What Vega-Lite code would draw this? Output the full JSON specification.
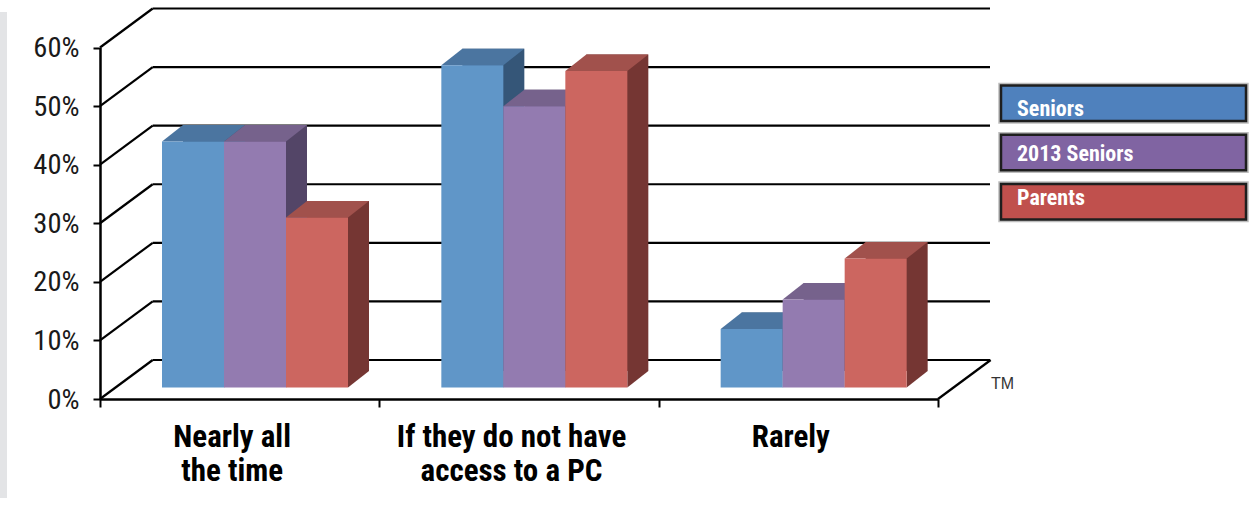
{
  "$schema": "https://vega.github.io/schema/vega-lite/v6.json",
  "width": 1252,
  "height": 507,
  "autosize": {"type": "none"},
  "padding": 0,
  "background": "#ffffff",
  "config": {
    "view": {"stroke": null},
    "font": "Roboto Condensed, DejaVu Sans Condensed, sans-serif"
  },
  "datasets": {
    "survey": [
      {"answer": "Nearly all the time", "series": "Seniors", "share": 42},
      {"answer": "Nearly all the time", "series": "2013 Seniors", "share": 42},
      {"answer": "Nearly all the time", "series": "Parents", "share": 29},
      {"answer": "If they do not have access to a PC", "series": "Seniors", "share": 55},
      {"answer": "If they do not have access to a PC", "series": "2013 Seniors", "share": 48},
      {"answer": "If they do not have access to a PC", "series": "Parents", "share": 54},
      {"answer": "Rarely", "series": "Seniors", "share": 10},
      {"answer": "Rarely", "series": "2013 Seniors", "share": 15},
      {"answer": "Rarely", "series": "Parents", "share": 22}
    ],
    "gridTicks": [{"v": 0}, {"v": 10}, {"v": 20}, {"v": 30}, {"v": 40}, {"v": 50}, {"v": 60}],
    "groups": [{"series": "Seniors"}, {"series": "2013 Seniors"}, {"series": "Parents"}]
  },
  "layer": [
    {
      "data": {"values": [{}]},
      "mark": {"type": "rect", "fill": "#e3e4e6"},
      "encoding": {
        "x": {"datum": 0, "type": "quantitative", "scale": {"domain": [0, 1], "range": [0, 7]}, "axis": null},
        "x2": {"datum": 1},
        "y": {"datum": 0, "type": "quantitative", "scale": {"domain": [0, 1], "range": [12, 498]}, "axis": null},
        "y2": {"datum": 1}
      }
    },
    {
      "data": {"name": "gridTicks"},
      "mark": {"type": "rule", "stroke": "#000000", "strokeWidth": 2.2},
      "encoding": {
        "y": {"field": "v", "type": "quantitative", "scale": {"domain": [0, 60], "range": [360, 8.5]}, "axis": null},
        "x": {"datum": 0, "type": "quantitative", "scale": {"domain": [0, 1], "range": [152.7, 990]}, "axis": null},
        "x2": {"datum": 1}
      }
    },
    {
      "data": {"name": "gridTicks"},
      "mark": {"type": "point", "shape": "M0,0L52.7,-39", "size": 4, "filled": false, "stroke": "#000000", "strokeWidth": 2.2, "opacity": 1},
      "encoding": {
        "x": {"datum": 0, "type": "quantitative", "scale": {"domain": [0, 1], "range": [100, 152.7]}, "axis": null},
        "y": {
          "field": "v",
          "type": "quantitative",
          "scale": {"domain": [0, 60], "range": [399, 47.5]},
          "axis": {
            "orient": "left",
            "offset": -100,
            "values": [0, 10, 20, 30, 40, 50, 60],
            "labelExpr": "datum.value + '%'",
            "title": null,
            "grid": false,
            "domainColor": "#000000",
            "domainWidth": 2.5,
            "tickColor": "#000000",
            "tickWidth": 2,
            "tickSize": 7,
            "labelFont": "Roboto Condensed, DejaVu Sans Condensed, sans-serif",
            "labelFontSize": 28.5,
            "labelColor": "#1a1a1a",
            "labelPadding": 14
          }
        }
      }
    },
    {
      "data": {"values": [{}]},
      "mark": {"type": "point", "shape": "M0,0L52.7,-39", "size": 4, "filled": false, "stroke": "#000000", "strokeWidth": 2.2, "opacity": 1},
      "encoding": {
        "x": {"datum": 1, "type": "quantitative", "scale": {"domain": [0, 1], "range": [100, 938]}, "axis": null},
        "y": {"datum": 0, "type": "quantitative", "scale": {"domain": [0, 60], "range": [399, 47.5]}, "axis": null}
      }
    },
    {
      "data": {"name": "survey"},
      "mark": {"type": "bar"},
      "encoding": {
        "x": {"field": "answer", "type": "nominal", "scale": {"type": "band", "domain": ["Nearly all the time", "If they do not have access to a PC", "Rarely"], "range": [121, 959], "paddingInner": 0, "paddingOuter": 0}, "axis": null},
        "xOffset": {"field": "series", "type": "nominal", "scale": {"type": "band", "domain": ["Seniors", "2013 Seniors", "Parents"], "range": [62, 248], "paddingInner": 0, "paddingOuter": 0}},
        "y": {"field": "share", "type": "quantitative", "scale": {"domain": [0, 60], "range": [371, 19.4]}, "axis": null},
        "color": {"field": "series", "type": "nominal", "scale": {"domain": ["Seniors", "2013 Seniors", "Parents"], "range": ["#355678", "#534567", "#753633"]}, "legend": null}
      }
    },
    {
      "data": {"name": "survey"},
      "mark": {"type": "point", "shape": "M31,0L52,-16.5L31,-16.5Z", "size": 4, "filled": true, "opacity": 1},
      "encoding": {
        "x": {"field": "answer", "type": "nominal", "scale": {"type": "band", "domain": ["Nearly all the time", "If they do not have access to a PC", "Rarely"], "range": [100, 938], "paddingInner": 0, "paddingOuter": 0}, "axis": null},
        "xOffset": {"field": "series", "type": "nominal", "scale": {"type": "band", "domain": ["Seniors", "2013 Seniors", "Parents"], "range": [62, 248], "paddingInner": 0, "paddingOuter": 0}},
        "y": {"datum": 0, "type": "quantitative", "scale": {"domain": [0, 60], "range": [387.5, 35.9]}, "axis": null},
        "color": {"field": "series", "type": "nominal", "scale": {"domain": ["Seniors", "2013 Seniors", "Parents"], "range": ["#355678", "#534567", "#753633"]}, "legend": null}
      }
    },
    {
      "data": {"name": "survey"},
      "mark": {"type": "point", "shape": "M-31,0L31,0L52,-16.5L-10,-16.5Z", "size": 4, "filled": true, "opacity": 1},
      "encoding": {
        "x": {"field": "answer", "type": "nominal", "scale": {"type": "band", "domain": ["Nearly all the time", "If they do not have access to a PC", "Rarely"], "range": [100, 938], "paddingInner": 0, "paddingOuter": 0}, "axis": null},
        "xOffset": {"field": "series", "type": "nominal", "scale": {"type": "band", "domain": ["Seniors", "2013 Seniors", "Parents"], "range": [62, 248], "paddingInner": 0, "paddingOuter": 0}},
        "y": {"field": "share", "type": "quantitative", "scale": {"domain": [0, 60], "range": [387.5, 35.9]}, "axis": null},
        "color": {"field": "series", "type": "nominal", "scale": {"domain": ["Seniors", "2013 Seniors", "Parents"], "range": ["#4b75a0", "#76628c", "#a1514c"]}, "legend": null}
      }
    },
    {
      "data": {"name": "survey"},
      "mark": {"type": "bar"},
      "encoding": {
        "x": {
          "field": "answer",
          "type": "nominal",
          "scale": {"type": "band", "domain": ["Nearly all the time", "If they do not have access to a PC", "Rarely"], "range": [100, 938], "paddingInner": 0, "paddingOuter": 0},
          "axis": {
            "orient": "bottom",
            "offset": -108,
            "title": null,
            "tickBand": "extent",
            "domainColor": "#000000",
            "domainWidth": 2.5,
            "tickColor": "#000000",
            "tickWidth": 2,
            "tickSize": 8,
            "labelAngle": 0,
            "labelFont": "Roboto Condensed, DejaVu Sans Condensed, sans-serif",
            "labelFontSize": 31,
            "labelFontWeight": "bold",
            "labelColor": "#000000",
            "labelPadding": 15,
            "labelLineHeight": 34,
            "labelBaseline": "top",
            "labelOffset": -8,
            "labelLimit": 400,
            "labelExpr": "datum.label == 'Nearly all the time' ? ['Nearly all', 'the time'] : datum.label == 'If they do not have access to a PC' ? ['If they do not have', 'access to a PC'] : datum.label"
          }
        },
        "xOffset": {"field": "series", "type": "nominal", "scale": {"type": "band", "domain": ["Seniors", "2013 Seniors", "Parents"], "range": [62, 248], "paddingInner": 0, "paddingOuter": 0}},
        "y": {"field": "share", "type": "quantitative", "scale": {"domain": [0, 60], "range": [387.5, 35.9]}, "axis": null},
        "color": {"field": "series", "type": "nominal", "scale": {"domain": ["Seniors", "2013 Seniors", "Parents"], "range": ["#6096c8", "#937bb0", "#cc6660"]}, "legend": null}
      }
    },
    {
      "data": {"name": "groups"},
      "mark": {"type": "rect", "stroke": "#bdbdbd", "strokeWidth": 5.5},
      "encoding": {
        "y": {"field": "series", "type": "nominal", "scale": {"domain": ["Seniors", "2013 Seniors", "Parents"], "range": [85.5, 219.5], "paddingInner": 0.28, "paddingOuter": 0}, "axis": null},
        "x": {"datum": 0, "type": "quantitative", "scale": {"domain": [0, 1], "range": [1001, 1246]}, "axis": null},
        "x2": {"datum": 1},
        "color": {"field": "series", "type": "nominal", "scale": {"domain": ["Seniors", "2013 Seniors", "Parents"], "range": ["#4f81bd", "#8064a2", "#c0504d"]}, "legend": null}
      }
    },
    {
      "data": {"name": "groups"},
      "mark": {"type": "rect", "stroke": "#1e1e1e", "strokeWidth": 2.5},
      "encoding": {
        "y": {"field": "series", "type": "nominal", "scale": {"domain": ["Seniors", "2013 Seniors", "Parents"], "range": [85.5, 219.5], "paddingInner": 0.28, "paddingOuter": 0}, "axis": null},
        "x": {"datum": 0, "type": "quantitative", "scale": {"domain": [0, 1], "range": [1001, 1246]}, "axis": null},
        "x2": {"datum": 1},
        "color": {"field": "series", "type": "nominal", "scale": {"domain": ["Seniors", "2013 Seniors", "Parents"], "range": ["#4f81bd", "#8064a2", "#c0504d"]}, "legend": null}
      }
    },
    {
      "data": {"name": "groups"},
      "mark": {"type": "text", "align": "left", "baseline": "middle", "dx": 16, "dy": 1, "fontSize": 22, "fontWeight": "bold", "fill": "#ffffff", "font": "Roboto Condensed, DejaVu Sans Condensed, sans-serif"},
      "encoding": {
        "y": {"field": "series", "type": "nominal", "scale": {"domain": ["Seniors", "2013 Seniors", "Parents"], "range": [85.5, 219.5], "paddingInner": 0.28, "paddingOuter": 0}, "axis": null},
        "x": {"datum": 0, "type": "quantitative", "scale": {"domain": [0, 1], "range": [1001, 1246]}, "axis": null},
        "text": {"field": "series", "type": "nominal"}
      }
    },
    {
      "data": {"values": [{}]},
      "mark": {"type": "text", "text": "TM", "align": "left", "baseline": "middle", "dx": 1, "dy": 24, "fontSize": 16, "fill": "#333333", "font": "Liberation Sans, sans-serif"},
      "encoding": {
        "x": {"datum": 1, "type": "quantitative", "scale": {"domain": [0, 1], "range": [152.7, 990]}, "axis": null},
        "y": {"datum": 0, "type": "quantitative", "scale": {"domain": [0, 60], "range": [360, 8.5]}, "axis": null}
      }
    }
  ],
  "resolve": {
    "scale": {"x": "independent", "y": "independent", "xOffset": "independent", "color": "independent"}
  }
}
